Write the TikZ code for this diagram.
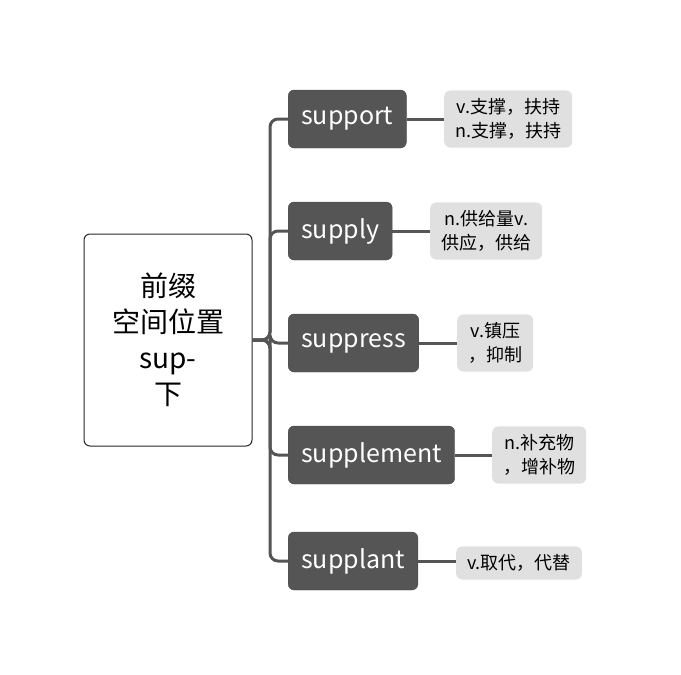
\documentclass[tikz,border=0pt]{standalone}
\usepackage{fontspec}
\setmainfont{Noto Sans CJK SC}
\usetikzlibrary{positioning}
\definecolor{branchgray}{HTML}{555555}
\definecolor{leafgray}{HTML}{E0E0E0}
\tikzset{
  root/.style={draw=black!85, fill=white, rounded corners=6pt, line width=1pt,
    minimum width=168pt, minimum height=212pt, align=center, font=\fontsize{28}{36}\selectfont},
  word/.style={draw=black!70, fill=branchgray, text=white, rounded corners=6pt,
    minimum height=58pt, inner xsep=13pt, font=\fontsize{25}{30}\selectfont},
  gloss/.style={fill=leafgray, rounded corners=6pt, align=center, inner xsep=11pt,
    inner ysep=8pt, font=\fontsize{18}{24}\selectfont},
  link/.style={draw=branchgray, line width=3pt, rounded corners=8pt},
}
\begin{document}
\begin{tikzpicture}[x=1pt, y=-1pt]
  \useasboundingbox (0,0) rectangle (681,675);
  \node[root] (root) at (168,340) {前缀\\空间位置\\sup-\\下};
  \coordinate (trunk) at (270,340);
  \node[word, anchor=west] (support) at (288,119) {support};
  \node[word, anchor=west] (supply) at (288,231) {supply};
  \node[word, anchor=west] (suppress) at (288,343) {suppress};
  \node[word, anchor=west] (supplement) at (288,455) {supplement};
  \node[word, anchor=west] (supplant) at (288,561) {supplant};
  \node[gloss, anchor=west] (supportN) at (444,119) {v.支撑，扶持\\n.支撑，扶持};
  \node[gloss, anchor=west] (supplyN) at (430,231) {n.供给量v.\\供应，供给};
  \node[gloss, anchor=west] (suppressN) at (457,343) {v.镇压\\，抑制};
  \node[gloss, anchor=west] (supplementN) at (492,455) {n.补充物\\，增补物};
  \node[gloss, anchor=west] (supplantN) at (456,563) {v.取代，代替};
  % connectors
  \foreach \w in {support,supply,suppress,supplement,supplant}{
    \draw[link] (root.east) -- (trunk) |- (\w.west);
    \draw[link] (\w.east) -- (\w.east -| \w N.west);
  }
\end{tikzpicture}
\end{document}
